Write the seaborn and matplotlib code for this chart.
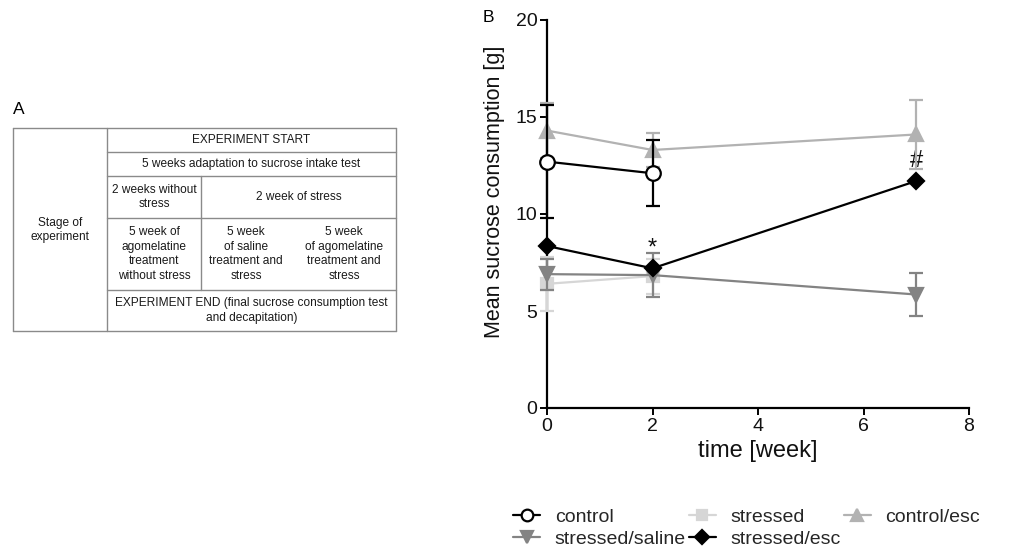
import numpy as np
import pandas as pd
import matplotlib
matplotlib.use("Agg")
import matplotlib.pyplot as plt
import seaborn as sns

# ---- Panel B data: mean sucrose consumption (g) and SEM ----
weeks_all = [0, 2, 7]
weeks_short = [0, 2]

control_mean = [12.7, 12.1]
control_err = [2.9, 1.7]

stressed_mean = [6.4, 6.8]
stressed_err = [1.4, 0.9]

control_esc_mean = [14.3, 13.3, 14.1]
control_esc_err = [1.4, 0.9, 1.8]

stressed_saline_mean = [6.9, 6.85, 5.85]
stressed_saline_err = [0.8, 1.15, 1.1]

stressed_esc_mean = [8.35, 7.2, 11.7]

group_labels = ["control", "stressed", "control/esc", "stressed/saline", "stressed/esc"]
annotations = {2: "*", 7: "#"}  # significance marks on stressed/esc

x_ticks = [0, 2, 4, 6, 8]
y_ticks = [0, 5, 10, 15, 20]

# ---- Panel A table text ----
table_header = "EXPERIMENT START"
table_adapt = "5 weeks adaptation to sucrose intake test"
table_stage = "Stage of\nexperiment"
table_phase1 = ["2 weeks without\nstress", "2 week of stress"]
table_phase2 = ["5 week of\nagomelatine\ntreatment\nwithout stress",
                "5 week\nof saline\ntreatment and\nstress",
                "5 week\nof agomelatine\ntreatment and\nstress"]
table_end = "EXPERIMENT END (final sucrose consumption test\nand decapitation)"

sns.set_theme(style="ticks")
plt.rcParams["font.family"] = ["Liberation Sans", "DejaVu Sans"]

W, H = 1027, 548
fig = plt.figure(figsize=(W / 100, H / 100), dpi=100)

# ================= Panel A: study design table =================
tab = fig.add_axes([0, 0, 1, 1])
tab.set_xlim(0, W)
tab.set_ylim(H, 0)
tab.axis("off")
tab.patch.set_alpha(0)

lc = "#8a8a8a"
x0, x1, x2, x3 = 13, 107, 201, 396
yr = [128, 152, 176, 218, 290, 331]
tab.plot([x0, x3], [yr[0], yr[0]], color=lc, lw=1)
tab.plot([x0, x3], [yr[-1], yr[-1]], color=lc, lw=1)
for y in yr[1:-1]:
    tab.plot([x1, x3], [y, y], color=lc, lw=1)
for x in (x0, x1, x3):
    tab.plot([x, x], [yr[0], yr[-1]], color=lc, lw=1)
tab.plot([x2, x2], [yr[2], yr[4]], color=lc, lw=1)

tfs = 8.6
tkw = dict(ha="center", va="center", fontsize=tfs, color="#1a1a1a", linespacing=1.3)
tab.text((x1 + x3) / 2, (yr[0] + yr[1]) / 2, table_header, **tkw)
tab.text((x1 + x3) / 2, (yr[1] + yr[2]) / 2, table_adapt, **tkw)
tab.text((x0 + x1) / 2, 230, table_stage, **tkw)
tab.text((x1 + x2) / 2, (yr[2] + yr[3]) / 2, table_phase1[0], **tkw)
tab.text((x2 + x3) / 2, (yr[2] + yr[3]) / 2, table_phase1[1], **tkw)
for xc, txt in zip([(x1 + x2) / 2, 246, 344], table_phase2):
    tab.text(xc, (yr[3] + yr[4]) / 2, txt, **tkw)
tab.text((x1 + x3) / 2, (yr[4] + yr[5]) / 2, table_end, **tkw)
tab.text(19, 109, "A", ha="center", va="center", fontsize=12.5, color="black")

# ================= Panel B: sucrose consumption =================
ax = fig.add_axes([547 / W, 1 - 408 / H, 422 / W, 388 / H])

styles = {
    "control": dict(color="black", marker="o", mfc="white", ms=10.5),
    "stressed": dict(color="#d6d6d6", marker="s", mfc="#d6d6d6", ms=9),
    "control/esc": dict(color="#b2b2b2", marker="^", mfc="#b2b2b2", ms=10),
    "stressed/saline": dict(color="#838383", marker="v", mfc="#838383", ms=10),
    "stressed/esc": dict(color="black", marker="D", mfc="black", ms=8.5),
}
series = {
    "control": (weeks_short, control_mean, control_err),
    "stressed": (weeks_short, stressed_mean, stressed_err),
    "control/esc": (weeks_all, control_esc_mean, control_esc_err),
    "stressed/saline": (weeks_all, stressed_saline_mean, stressed_saline_err),
    "stressed/esc": (weeks_all, stressed_esc_mean, None),
}
draw_order = ["stressed", "control/esc", "stressed/saline", "control", "stressed/esc"]

handles = {}
for i, name in enumerate(draw_order):
    wk, mean, err = series[name]
    st = styles[name]
    z = 3 + i
    if err is not None:
        ax.errorbar(wk, mean, yerr=err, fmt="none", ecolor=st["color"],
                    elinewidth=1.6, capsize=4.8, capthick=1.6, zorder=z, clip_on=False)
    df = pd.DataFrame({"week": wk, "value": mean})
    sns.lineplot(data=df, x="week", y="value", ax=ax, color=st["color"],
                 marker=st["marker"], markersize=st["ms"],
                 markerfacecolor=st["mfc"], markeredgecolor=st["color"],
                 markeredgewidth=1.6, linewidth=1.6, label=name,
                 zorder=z + 0.5, clip_on=False)
    handles[name] = ax.get_lines()[-1]

for wk, mark in annotations.items():
    yv = stressed_esc_mean[weeks_all.index(wk)]
    ax.text(wk, yv + 0.7, mark, ha="center", va="baseline", fontsize=17, color="#111111")

ax.set_xlim(0, 8)
ax.set_ylim(0, 20)
ax.set_xticks(x_ticks)
ax.set_yticks(y_ticks)
sns.despine(ax=ax)
for sp in ("left", "bottom"):
    ax.spines[sp].set_linewidth(1.6)
    ax.spines[sp].set_color("black")
ax.tick_params(axis="both", length=5, width=1.4, color="black", labelsize=14,
               labelcolor="#111111", pad=2)
ax.set_xlabel("time [week]", fontsize=17, color="#111111", labelpad=4)
ax.set_ylabel("Mean sucrose consumption [g]", fontsize=15.5, color="#111111")
ax.yaxis.set_label_coords(-0.10, 0.557)
ax.patch.set_alpha(0)

if ax.get_legend():
    ax.get_legend().remove()
legend_order = ["control", "stressed/saline", "stressed", "stressed/esc", "control/esc"]
fig.legend([handles[n] for n in legend_order], legend_order, ncol=3,
           loc="upper left", bbox_to_anchor=(513 / W, 1 - 508 / H),
           frameon=False, fontsize=14, handlelength=1.4, handletextpad=0.75,
           columnspacing=0.15, labelspacing=0.25, borderpad=0, borderaxespad=0,
           markerscale=0.8)

fig.text(488 / W, 1 - 18 / H, "B", ha="center", va="center", fontsize=12.5, color="black")

fig.savefig("out.png", dpi=100)
